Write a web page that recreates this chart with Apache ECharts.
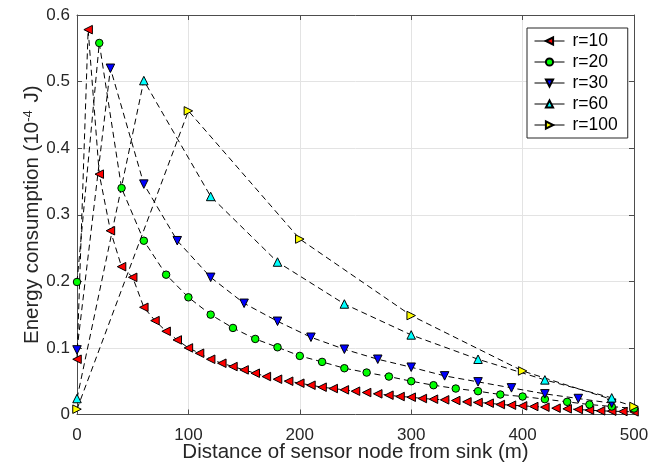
<!DOCTYPE html>
<html>
<head>
<meta charset="utf-8">
<script src="https://cdn.jsdelivr.net/npm/echarts@6/dist/echarts.min.js"></script>
<style>
  html, body { margin: 0; padding: 0; background: #fff; }
  #chart { width: 666px; height: 466px; }
</style>
</head>
<body>
<div id="chart"></div>
<script>
// distances (m) where each curve was sampled
const range = (step, end) => { const a = []; for (let x = 0; x <= end; x += step) a.push(x); return a; };
const x10 = range(10, 500);
const x20 = range(20, 500);
const x30 = range(30, 480);
const x60 = range(60, 480);
const x100 = range(100, 500);

// energy consumption (10^-4 J)
const e10 = [0.083, 0.578, 0.361, 0.276, 0.222, 0.206, 0.161, 0.141, 0.125, 0.112,
  0.100, 0.092, 0.083, 0.077, 0.072, 0.067, 0.062, 0.057, 0.053, 0.050,
  0.047, 0.044, 0.041, 0.039, 0.037, 0.035, 0.033, 0.031, 0.029, 0.027,
  0.026, 0.024, 0.023, 0.022, 0.021, 0.019, 0.018, 0.017, 0.015, 0.014,
  0.013, 0.012, 0.011, 0.0095, 0.0085, 0.0075, 0.0065, 0.0055, 0.005, 0.0045, 0.004];
const e20 = [0.199, 0.558, 0.340, 0.261, 0.210, 0.176, 0.150, 0.130, 0.1135, 0.101,
  0.088, 0.079, 0.0695, 0.063, 0.057, 0.050, 0.044, 0.039, 0.035, 0.030,
  0.027, 0.023, 0.019, 0.015, 0.012, 0.009];
const e30 = [0.097, 0.520, 0.346, 0.261, 0.206, 0.167, 0.140, 0.116, 0.098, 0.083,
  0.071, 0.058, 0.049, 0.040, 0.031, 0.024, 0.017];
const e60 = [0.024, 0.5015, 0.3275, 0.229, 0.166, 0.1195, 0.083, 0.052, 0.025];
const e100 = [0.008, 0.456, 0.2635, 0.1486, 0.0654, 0.012];

const names = ["r=10", "r=20", "r=30", "r=60", "r=100"];
const colors = ["#ff0000", "#00ff00", "#0000ff", "#00ffff", "#ffff00"];
const symbols = ["triangle", "circle", "triangle", "triangle", "triangle"];
const rotations = [90, 0, 180, 0, -90];
const sizes = [8.5, 7.5, 8.5, 8.5, 8.5];

const xs = [x10, x20, x30, x60, x100];
const ys = [e10, e20, e30, e60, e100];

const font = "Liberation Sans, Arial, Helvetica, sans-serif";
const axisGray = "#4d4d4d";

const chart = echarts.init(document.getElementById("chart"));

const series = names.map((name, i) => ({
  name: name,
  type: "line",
  data: xs[i].map((x, k) => [x, ys[i][k]]),
  symbol: symbols[i],
  symbolRotate: rotations[i],
  symbolSize: sizes[i],
  showAllSymbol: true,
  clip: false,
  lineStyle: { color: "#000", width: 1, type: [6, 4] },
  itemStyle: { color: colors[i], borderColor: "#000", borderWidth: 1 },
  emphasis: { disabled: true },
  animation: false,
  z: 3,
}));

const option = {
  animation: false,
  textStyle: { fontFamily: font },
  grid: { left: 77, right: 32, top: 15, bottom: 51.5, show: false, outerBoundsMode: "none" },
  legend: {
    data: names,
    orient: "vertical",
    left: 527,
    top: 28,
    padding: [4, 10, 4, 7],
    itemWidth: 30,
    itemHeight: 9,
    itemGap: 3,
    backgroundColor: "#fff",
    borderColor: "#262626",
    borderWidth: 1,
    lineStyle: { type: "solid", color: "#000", width: 1 },
    textStyle: { fontSize: 17.5, lineHeight: 16, color: "#000", fontFamily: font, padding: [0, 0, 0, 3] },
    z: 10,
  },
  xAxis: [
    {
      type: "value",
      min: 0,
      max: 500,
      interval: 100,
      name: "Distance of sensor node from sink (m)",
      nameLocation: "middle",
      nameGap: 27,
      nameMoveOverlap: false,
      nameTextStyle: { fontSize: 20.5, color: "#262626", fontFamily: font },
      axisLine: { show: true, onZero: false, lineStyle: { color: axisGray, width: 1 } },
      axisTick: { show: true, inside: true, length: 5, lineStyle: { color: axisGray } },
      axisLabel: { fontSize: 17, color: "#262626", margin: 12, fontFamily: font },
      splitLine: { show: true, lineStyle: { color: "#e3e3e3", width: 1 } },
    },
    {
      type: "value",
      position: "top",
      min: 0,
      max: 500,
      interval: 100,
      axisLine: { show: true, onZero: false, lineStyle: { color: axisGray, width: 1 } },
      axisTick: { show: true, inside: true, length: 5, lineStyle: { color: axisGray } },
      axisLabel: { show: false },
      splitLine: { show: false },
    },
  ],
  yAxis: [
    {
      type: "value",
      min: 0,
      max: 0.6,
      interval: 0.1,
      name: "{a|Energy consumption (10}{s|-4}{a| J)}",
      nameLocation: "middle",
      nameGap: 34,
      nameMoveOverlap: false,
      nameTextStyle: {
        rich: {
          a: { fontSize: 20.5, color: "#262626", fontFamily: font },
          s: { fontSize: 13, color: "#262626", fontFamily: font, verticalAlign: "top", padding: [0, 2, 0, 0] },
        },
      },
      axisLine: { show: true, onZero: false, lineStyle: { color: axisGray, width: 1 } },
      axisTick: { show: true, inside: true, length: 5, lineStyle: { color: axisGray } },
      axisLabel: { fontSize: 17, color: "#262626", margin: 7, fontFamily: font },
      splitLine: { show: true, lineStyle: { color: "#e3e3e3", width: 1 } },
    },
    {
      type: "value",
      position: "right",
      min: 0,
      max: 0.6,
      interval: 0.1,
      axisLine: { show: true, onZero: false, lineStyle: { color: axisGray, width: 1 } },
      axisTick: { show: true, inside: true, length: 5, lineStyle: { color: axisGray } },
      axisLabel: { show: false },
      splitLine: { show: false },
    },
  ],
  series: series,
};

chart.setOption(option);
</script>
</body>
</html>
